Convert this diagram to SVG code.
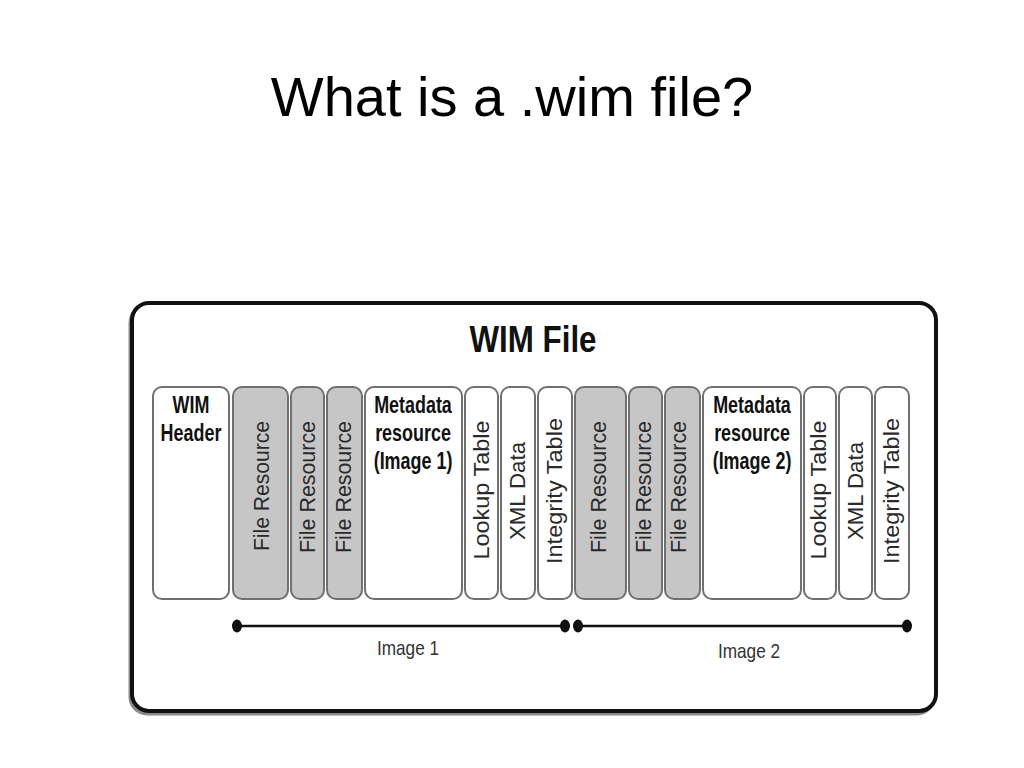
<svg xmlns="http://www.w3.org/2000/svg" width="1024" height="768" viewBox="0 0 1024 768">
<style>
.title{font-family:"Liberation Sans",Arial,sans-serif;font-size:56px;fill:#000;text-anchor:middle}
.box{stroke:#707070;stroke-width:2}
.w{fill:#fff}
.g{fill:#c6c6c6}
.bold{font-family:"Liberation Sans",Arial,sans-serif;font-weight:bold;font-size:23px;fill:#111;text-anchor:middle}
.vt{font-family:"Liberation Sans",Arial,sans-serif;font-size:22px;fill:#2a2a2a;text-anchor:middle}
.lbl{font-family:"Liberation Sans",Arial,sans-serif;font-size:21px;fill:#333;text-anchor:middle}
</style>
<rect width="1024" height="768" fill="#fff"/>
<text class="title" x="512" y="116">What is a .wim file?</text>
<g id="frame">
<rect x="130" y="306" width="804" height="408" rx="17" fill="none" stroke="#8a8a8a" stroke-width="3"/>
<rect x="132" y="303" width="804" height="408" rx="17" fill="#fff" stroke="#111" stroke-width="4"/>
<text x="533" y="352" font-family="Liberation Sans, Arial, sans-serif" font-weight="bold" font-size="37" text-anchor="middle" textLength="127" lengthAdjust="spacingAndGlyphs" fill="#111">WIM File</text>
</g>
<g id="wim-header"><rect class="box w" x="153" y="387" width="76" height="212" rx="9"/>
<text class="bold" transform="translate(191,413) scale(0.78,1)">WIM</text>
<text class="bold" transform="translate(191,441) scale(0.78,1)">Header</text></g>
<g id="fr1"><rect class="box g" x="233" y="387" width="55" height="212" rx="9"/>
<text class="vt" transform="translate(269,486) rotate(-90)" textLength="130" lengthAdjust="spacingAndGlyphs">File Resource</text></g>
<g id="fr2"><rect class="box g" x="291" y="387" width="33" height="212" rx="9"/>
<text class="vt" transform="translate(315,487) rotate(-90)" textLength="132" lengthAdjust="spacingAndGlyphs">File Resource</text></g>
<g id="fr3"><rect class="box g" x="327" y="387" width="35" height="212" rx="9"/>
<text class="vt" transform="translate(351,487) rotate(-90)" textLength="132" lengthAdjust="spacingAndGlyphs">File Resource</text></g>
<g id="meta1"><rect class="box w" x="365" y="387" width="97" height="212" rx="9"/>
<text class="bold" transform="translate(413,413) scale(0.78,1)">Metadata</text>
<text class="bold" transform="translate(413,441) scale(0.78,1)">resource</text>
<text class="bold" transform="translate(413,469) scale(0.78,1)">(Image 1)</text></g>
<g id="lookup1"><rect class="box w" x="465" y="387" width="33" height="212" rx="9"/>
<text class="vt" transform="translate(489,490) rotate(-90)" textLength="139" lengthAdjust="spacingAndGlyphs">Lookup Table</text></g>
<g id="xml1"><rect class="box w" x="501" y="387" width="34" height="212" rx="9"/>
<text class="vt" transform="translate(525,491) rotate(-90)" textLength="98" lengthAdjust="spacingAndGlyphs">XML Data</text></g>
<g id="integrity1"><rect class="box w" x="538" y="387" width="34" height="212" rx="9"/>
<text class="vt" transform="translate(562,491) rotate(-90)" textLength="146" lengthAdjust="spacingAndGlyphs">Integrity Table</text></g>
<g id="fr4"><rect class="box g" x="575" y="387" width="51" height="212" rx="9"/>
<text class="vt" transform="translate(606,487) rotate(-90)" textLength="132" lengthAdjust="spacingAndGlyphs">File Resource</text></g>
<g id="fr5"><rect class="box g" x="629" y="387" width="33" height="212" rx="9"/>
<text class="vt" transform="translate(651,487) rotate(-90)" textLength="132" lengthAdjust="spacingAndGlyphs">File Resource</text></g>
<g id="fr6"><rect class="box g" x="665" y="387" width="35" height="212" rx="9"/>
<text class="vt" transform="translate(686,487) rotate(-90)" textLength="132" lengthAdjust="spacingAndGlyphs">File Resource</text></g>
<g id="meta2"><rect class="box w" x="703" y="387" width="98" height="212" rx="9"/>
<text class="bold" transform="translate(752,413) scale(0.78,1)">Metadata</text>
<text class="bold" transform="translate(752,441) scale(0.78,1)">resource</text>
<text class="bold" transform="translate(752,469) scale(0.78,1)">(Image 2)</text></g>
<g id="lookup2"><rect class="box w" x="804" y="387" width="32" height="212" rx="9"/>
<text class="vt" transform="translate(826,490) rotate(-90)" textLength="139" lengthAdjust="spacingAndGlyphs">Lookup Table</text></g>
<g id="xml2"><rect class="box w" x="839" y="387" width="33" height="212" rx="9"/>
<text class="vt" transform="translate(863,491) rotate(-90)" textLength="98" lengthAdjust="spacingAndGlyphs">XML Data</text></g>
<g id="integrity2"><rect class="box w" x="875" y="387" width="34" height="212" rx="9"/>
<text class="vt" transform="translate(899,491) rotate(-90)" textLength="146" lengthAdjust="spacingAndGlyphs">Integrity Table</text></g>
<g id="connectors">
<line x1="237" y1="626" x2="565" y2="626" stroke="#111" stroke-width="2.5"/>
<line x1="578" y1="626" x2="907" y2="626" stroke="#111" stroke-width="2.5"/>
<ellipse cx="237" cy="626" rx="5" ry="6.5" fill="#111"/>
<ellipse cx="565" cy="626" rx="5" ry="6.5" fill="#111"/>
<ellipse cx="578" cy="626" rx="5" ry="6.5" fill="#111"/>
<ellipse cx="907" cy="626" rx="5" ry="6.5" fill="#111"/>
</g>
<text class="lbl" transform="translate(408,655) scale(0.82,1)">Image 1</text>
<text class="lbl" transform="translate(749,658) scale(0.82,1)">Image 2</text>
</svg>
